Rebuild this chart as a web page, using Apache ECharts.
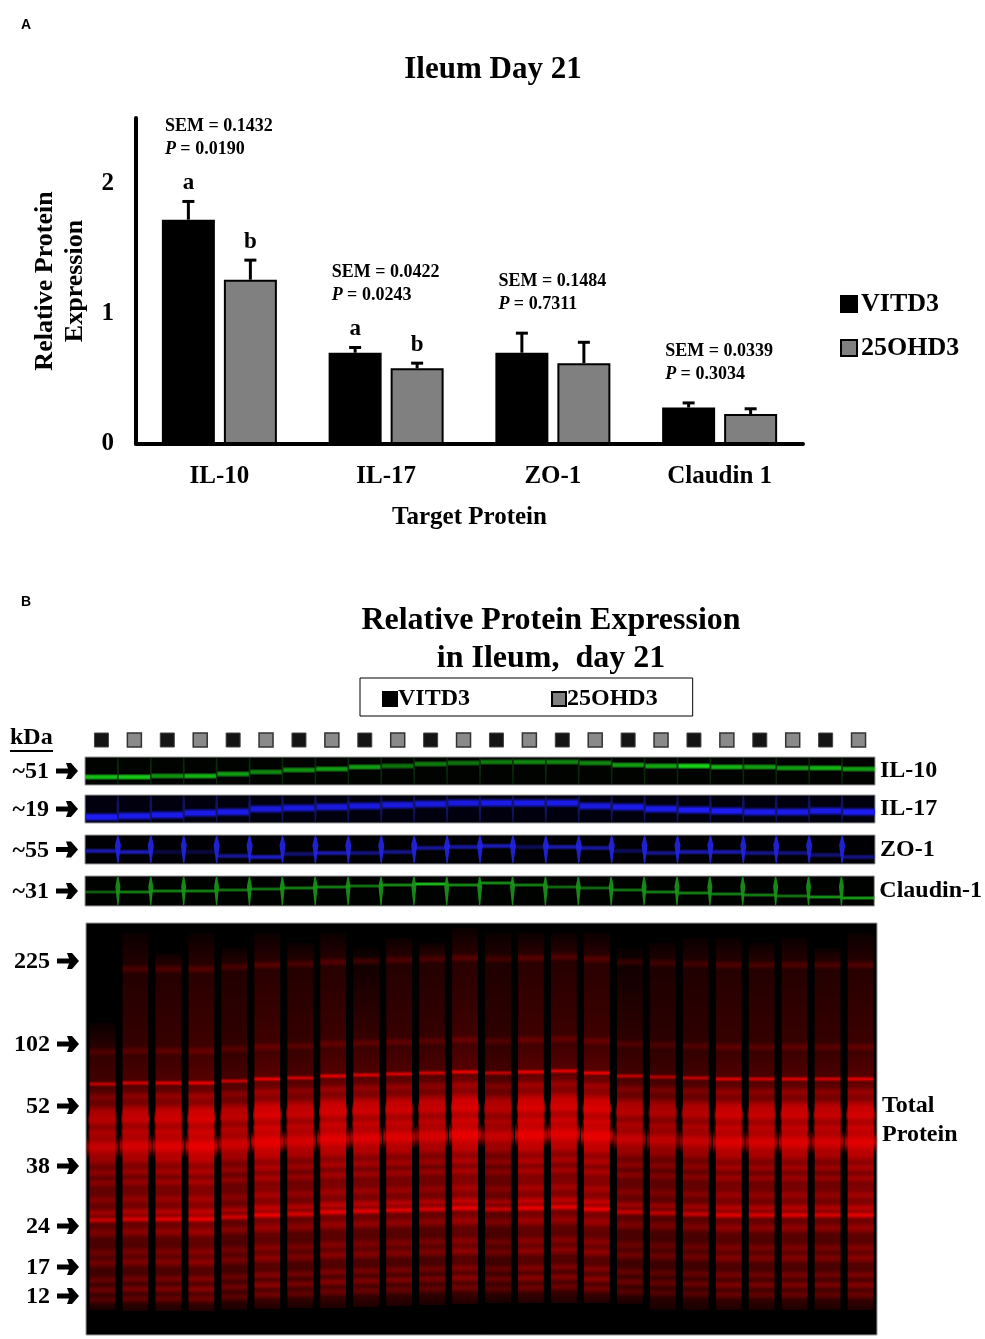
<!DOCTYPE html>
<html>
<head>
<meta charset="utf-8">
<script src="https://cdn.jsdelivr.net/npm/echarts@6/dist/echarts.min.js"></script>
<style>
html, body { margin: 0; background: #fff; }
#chart { width: 985px; height: 1339px; }
</style>
</head>
<body>
<div id="chart"></div>
<script>
// ---- panel A data ----
const targets = ['IL-10', 'IL-17', 'ZO-1', 'Claudin 1'];
const vitd3Mean = [1.72, 0.70, 0.70, 0.28];
const vitd3Sem = [0.14, 0.04, 0.15, 0.035];
const ohd3Mean = [1.26, 0.58, 0.62, 0.23];
const ohd3Sem = [0.15, 0.04, 0.16, 0.04];
const semLabels = ['0.1432', '0.0422', '0.1484', '0.0339'];
const pLabels = ['0.0190', '0.0243', '0.7311', '0.3034'];
const vitd3Letters = ['a', 'a', '', ''];
const ohd3Letters = ['b', 'b', '', ''];

// ---- panel B data (blot) ----
const lanes = ['1','2','3','4','5','6','7','8','9','10','11','12','13','14','15','16','17','18','19','20','21','22','23','24'];
const laneDiet = ['VITD3','25OHD3','VITD3','25OHD3','VITD3','25OHD3','VITD3','25OHD3','VITD3','25OHD3','VITD3','25OHD3',
                  'VITD3','25OHD3','VITD3','25OHD3','VITD3','25OHD3','VITD3','25OHD3','VITD3','25OHD3','VITD3','25OHD3'];
// band depth inside each strip (px from strip top) and brightness
const il10Pos = [20,20,19,19,17,15,13,12,10,9,7,6,5,5,5,6,8,9,9,10,10,11,11,12];
const il10Level = [0.85,0.9,0.65,0.8,0.7,0.6,0.65,0.7,0.7,0.5,0.55,0.5,0.55,0.6,0.6,0.6,0.7,0.75,0.95,0.8,0.7,0.7,0.8,0.7];
const il17Pos = [22,21,20,18,17,14,13,12,11,10,9,8,8,8,8,11,12,14,15,16,17,17,16,17];
const il17Level = [0.95,0.9,0.9,0.9,0.9,0.85,0.85,0.85,0.85,0.85,0.85,0.85,0.9,0.9,0.9,0.85,0.9,0.9,0.95,0.95,0.9,0.9,0.9,0.95];
const zo1Pos = [16,17,17,17,21,22,19,18,18,17,13,12,11,12,12,13,16,18,17,17,18,18,20,22];
const zo1Level = [0.7,0.75,0.25,0.25,0.6,0.8,0.45,0.7,0.5,0.55,0.6,0.65,0.75,0.35,0.7,0.65,0.35,0.55,0.7,0.7,0.55,0.5,0.45,0.5];
const cldnPos = [16,16,15,15,14,13,12,11,10,9,8,9,7,9,11,12,14,16,17,18,19,20,21,22];
const cldnLevel = [0.45,0.6,0.6,0.6,0.55,0.55,0.6,0.6,0.55,0.65,0.9,0.65,0.65,0.6,0.5,0.5,0.55,0.6,0.6,0.6,0.6,0.55,0.7,0.75];

// total protein gel: depth from gel top (px), ladder and band pattern
const ladderKDa = [225, 102, 52, 38, 24, 17, 12];
const ladderPos = [38, 121, 183, 243, 303, 344, 373];
const totalBandPos = [47,129,161,174,189,197,210,224,237,250,260,277,290,297,310,330,340,357,367,377];
const totalBandLevel = [0.2,0.2,0.8,0.25,0.45,0.6,0.45,0.7,0.3,0.3,0.3,0.25,0.45,0.8,0.3,0.25,0.3,0.25,0.3,0.2];
const smearDepth = [40, 130, 160, 185, 230, 255, 290, 320, 375];
const smearLevel = [0.15, 0.25, 0.35, 0.6, 0.7, 0.5, 0.55, 0.38, 0.3];
const laneShift = [0,-1,-1,-1,-3,-5,-6,-8,-9,-10,-11,-12,-11,-12,-13,-11,-8,-7,-6,-5,-5,-5,-5,-5];
const laneGain = [0.75,0.85,0.9,1.0,0.8,1.0,0.85,0.95,0.9,0.9,0.85,1.0,0.75,1.0,0.95,1.0,0.75,0.7,0.75,0.9,0.85,0.9,0.85,0.95];
const laneStart = [100,10,30,10,25,10,20,10,25,15,20,5,10,10,10,10,25,20,15,15,20,15,25,10];
const laneEnd = [387,388,388,388,387,386,385,385,384,383,382,381,380,380,380,380,381,387,387,387,387,387,387,387];

// ---- styles ----
const SERIF = "'Liberation Serif', 'Times New Roman', serif";
const bandSpread = [5,5,3,5,7,9,7,12,6,5,5,5,5,4,6,6,6,5,5,5];
const MAIN_BAND = 7;
const BAR_W = 53, BAR_GAP = 9;

const chart = echarts.init(document.getElementById('chart'));

function rgba(c, a) { return 'rgba(' + c[0] + ',' + c[1] + ',' + c[2] + ',' + a + ')'; }
function softBand(c, a, flat) {
  const f = flat || 0;
  return new echarts.graphic.LinearGradient(0, 0, 0, 1, [
    { offset: 0, color: rgba(c, 0) },
    { offset: 0.5 - f, color: rgba(c, a) },
    { offset: 0.5 + f, color: rgba(c, a) },
    { offset: 1, color: rgba(c, 0) }
  ]);
}
// heavy right arrow whose tip is at (tx, y)
function arrowShape(tx, y) {
  return { type: 'polygon', shape: { points: [[tx - 22, y - 2.5], [tx - 10, y - 2.5], [tx - 12, y - 8], [tx - 7, y - 8], [tx, y],
    [tx - 7, y + 8], [tx - 12, y + 8], [tx - 10, y + 2.5], [tx - 22, y + 2.5]] }, style: { fill: '#000' } };
}

// error bars drawn on top of each bar
function errorSeries(name, means, sems, letters, side) {
  return {
    type: 'custom', name: name + ' err', xAxisIndex: 0, yAxisIndex: 0, z: 5,
    data: means.map((m, i) => [i, m, sems[i]]),
    renderItem: (params, api) => {
      const i = api.value(0);
      const base = api.coord([i, api.value(1)]);
      const top = api.coord([i, api.value(1) + api.value(2)]);
      const x = base[0] + side * (BAR_W + BAR_GAP) / 2;
      const kids = [
        { type: 'line', shape: { x1: x, y1: base[1], x2: x, y2: top[1] }, style: { stroke: '#000', lineWidth: 3 } },
        { type: 'line', shape: { x1: x - 6, y1: top[1], x2: x + 6, y2: top[1] }, style: { stroke: '#000', lineWidth: 3 } }
      ];
      if (letters[i]) {
        kids.push({ type: 'text', x: x, y: top[1] - 18,
          style: { text: letters[i], fill: '#000', font: 'bold 23px ' + SERIF, align: 'center', verticalAlign: 'middle' } });
      }
      return { type: 'group', children: kids };
    }
  };
}

// SEM / P annotation over each group
const annotSeries = {
  type: 'custom', xAxisIndex: 0, yAxisIndex: 0, z: 6,
  data: targets.map((t, i) => [i, Math.max(vitd3Mean[i] + vitd3Sem[i], ohd3Mean[i] + ohd3Sem[i])]),
  renderItem: (params, api) => {
    const i = api.value(0);
    const p = api.coord([i, api.value(1)]);
    const gap = vitd3Letters[i] ? 41 : 17;
    return {
      type: 'text', x: p[0] - BAR_W - BAR_GAP / 2 + 3, y: p[1] - gap,
      style: {
        text: '{b|SEM = ' + semLabels[i] + '}\n{i|P}{b| = ' + pLabels[i] + '}',
        verticalAlign: 'bottom', align: 'left',
        rich: {
          b: { font: 'bold 18px ' + SERIF, fill: '#000', lineHeight: 23 },
          i: { font: 'italic bold 18px ' + SERIF, fill: '#000', lineHeight: 23 }
        }
      }
    };
  }
};

// ---- blot strips ----
const GX = 85, GW = 790;
const strips = [
  { top: 757, h: 28, pos: il10Pos, level: il10Level, color: [25, 220, 25], bg: '#000300', sep: [10, 45, 10], sepW: 2, left: '~51', right: 'IL-10', spread: 3.5 },
  { top: 795, h: 28, pos: il17Pos, level: il17Level, color: [30, 30, 255], bg: '#00000e', sep: [20, 20, 100], sepW: 3, left: '~19', right: 'IL-17', spread: 5 },
  { top: 835, h: 29, pos: zo1Pos, level: zo1Level, color: [35, 35, 235], bg: '#000004', sep: [35, 35, 230], sepW: 6, left: '~55', right: 'ZO-1', spread: 3 },
  { top: 876, h: 30, pos: cldnPos, level: cldnLevel, color: [30, 200, 30], bg: '#000200', sep: [25, 150, 25], sepW: 5, left: '~31', right: 'Claudin-1', spread: 2.2 }
];

const grid = [
  { left: 136, right: 182, top: 118, height: 326 },            // 0 bar chart
  { left: GX, width: GW, top: 731, height: 18 }                  // 1 lane markers
];
const xAxis = [
  {
    type: 'category', gridIndex: 0, data: targets,
    axisLine: { lineStyle: { color: '#000', width: 4 } }, axisTick: { show: false },
    axisLabel: { color: '#000', fontFamily: SERIF, fontWeight: 'bold', fontSize: 25, margin: 20 },
    name: 'Target Protein', nameLocation: 'middle', nameGap: 61,
    nameTextStyle: { color: '#000', fontFamily: SERIF, fontWeight: 'bold', fontSize: 25 }
  },
  { type: 'category', gridIndex: 1, data: lanes, show: false }
];
const yAxis = [
  {
    type: 'value', gridIndex: 0, min: 0, max: 2.5, interval: 1,
    axisLine: { show: true, lineStyle: { color: '#000', width: 4 } }, axisTick: { show: false },
    splitLine: { show: false },
    axisLabel: { color: '#000', fontFamily: SERIF, fontWeight: 'bold', fontSize: 25, margin: 22, showMaxLabel: false,
      formatter: v => (Number.isInteger(v) ? String(v) : '') },
    name: 'Relative Protein\nExpression', nameLocation: 'middle', nameGap: 40, nameRotate: 90,
    nameTextStyle: { color: '#000', fontFamily: SERIF, fontWeight: 'bold', fontSize: 26, lineHeight: 30 }
  },
  { type: 'value', gridIndex: 1, min: 0, max: 1, show: false }
];

const series = [
  { type: 'bar', name: 'VITD3', xAxisIndex: 0, yAxisIndex: 0, data: vitd3Mean, barWidth: BAR_W, barGap: (BAR_GAP / BAR_W * 100) + '%',
    itemStyle: { color: '#000', borderColor: '#000', borderWidth: 2 } },
  { type: 'bar', name: '25OHD3', xAxisIndex: 0, yAxisIndex: 0, data: ohd3Mean, barWidth: BAR_W,
    itemStyle: { color: '#808080', borderColor: '#000', borderWidth: 2 } },
  errorSeries('VITD3', vitd3Mean, vitd3Sem, vitd3Letters, -1),
  errorSeries('25OHD3', ohd3Mean, ohd3Sem, ohd3Letters, 1),
  annotSeries,
  { type: 'scatter', name: 'VITD3 lanes', xAxisIndex: 1, yAxisIndex: 1, symbol: 'rect', symbolSize: 14,
    data: lanes.map((l, i) => laneDiet[i] === 'VITD3' ? [i, 0.5] : null).filter(Boolean),
    itemStyle: { color: '#141414', borderColor: '#444', borderWidth: 1, opacity: 1 } },
  { type: 'scatter', name: '25OHD3 lanes', xAxisIndex: 1, yAxisIndex: 1, symbol: 'rect', symbolSize: 14,
    data: lanes.map((l, i) => laneDiet[i] === '25OHD3' ? [i, 0.5] : null).filter(Boolean),
    itemStyle: { color: '#8a8a8a', borderColor: '#333', borderWidth: 1.5, opacity: 1 } }
];

strips.forEach((s, k) => {
  const g = grid.length;
  grid.push({ left: GX, width: GW, top: s.top, height: s.h, show: true, backgroundColor: s.bg, borderColor: '#9a9a9a', borderWidth: 1 });
  xAxis.push({ type: 'category', gridIndex: g, data: lanes, show: false });
  const ya = yAxis.length;
  const nameStyle = { color: '#000', fontFamily: SERIF, fontWeight: 'bold', fontSize: 24 };
  yAxis.push({ type: 'value', gridIndex: g, min: 0, max: s.h, inverse: true, show: false });
  yAxis.push({
    type: 'value', gridIndex: g, min: 0, max: s.h, inverse: true, position: 'right',
    axisLine: { show: false }, axisTick: { show: false }, axisLabel: { show: false }, splitLine: { show: false },
    name: s.right, nameLocation: 'middle', nameRotate: 0, nameGap: 5, nameTextStyle: Object.assign({ padding: [5, 0, 0, 0] }, nameStyle)
  });
  series.push({
    type: 'custom', xAxisIndex: g, yAxisIndex: ya, clip: false,
    data: lanes.map((l, i) => [i, s.pos[i], s.level[i]]),
    renderItem: (params, api) => {
      const i = api.value(0);
      const c = api.coord([i, api.value(1)]);
      const bw = api.size([1, 0])[0];
      const half = api.size([0, s.spread])[1];
      const cs = params.coordSys;
      const kids = [];
      kids.push({ type: 'rect', shape: { x: c[0] - bw / 2, y: c[1] - half, width: bw, height: half * 2 },
        style: { fill: softBand(s.color, api.value(2), 0.15) } });
      if (i > 0) {
        const xs = c[0] - bw / 2, w = s.sepW;
        kids.push({ type: 'polygon', shape: { points: [[xs - 0.7, cs.y + 1], [xs + 0.7, cs.y + 1], [xs + w / 2, cs.y + cs.height * 0.35],
          [xs + 0.6, cs.y + cs.height - 1], [xs - 0.6, cs.y + cs.height - 1], [xs - w / 2, cs.y + cs.height * 0.35]] },
          style: { fill: rgba(s.sep, 0.9) } });
      } else {
        const y = cs.y + cs.height / 2;
        kids.push({ type: 'text', x: cs.x - 36, y: y + 1,
          style: { text: s.left, font: 'bold 24px ' + SERIF, fill: '#000', align: 'right', verticalAlign: 'middle' } });
        kids.push(arrowShape(cs.x - 7, y));
      }
      return { type: 'group', children: kids };
    }
  });
});

// total protein gel
const gg = grid.length;
grid.push({ left: 86, width: 791, top: 923, height: 412, show: true, backgroundColor: '#000', borderColor: '#9a9a9a', borderWidth: 1 });
xAxis.push({ type: 'category', gridIndex: gg, data: lanes, show: false });
const gy = yAxis.length;
yAxis.push({ type: 'value', gridIndex: gg, min: 0, max: 412, inverse: true, show: false });

series.push({
  type: 'custom', xAxisIndex: gg, yAxisIndex: gy, clip: true,
  data: lanes.map((l, i) => [i, laneStart[i], laneEnd[i]]),
  renderItem: (params, api) => {
    const i = api.value(0);
    const shift = laneShift[i], gain = laneGain[i];
    const start = api.value(1), end = api.value(2);
    const bw = api.size([1, 0])[0];
    const laneW = bw * 0.78;
    const cx = api.coord([i, 0])[0];
    const y0 = api.coord([i, start])[1];
    const y1 = api.coord([i, end])[1];
    const red = [255, 0, 0];
    const stops = [{ offset: 0, color: rgba(red, 0.04) }];
    smearDepth.forEach((d, k) => {
      const f = (d + shift - start) / (end - start);
      if (f > 0.02 && f < 1) stops.push({ offset: f, color: rgba(red, smearLevel[k] * gain) });
    });
    stops.push({ offset: 1, color: rgba(red, 0.12 * gain) });
    const kids = [{
      type: 'rect', shape: { x: cx - laneW / 2, y: y0, width: laneW, height: y1 - y0 },
      style: { fill: new echarts.graphic.LinearGradient(0, 0, 0, 1, stops) }
    }];
    totalBandPos.forEach((p, k) => {
      const depth = p + shift;
      if (depth < start) return;
      const y = api.coord([i, depth])[1];
      const half = api.size([0, bandSpread[k]])[1];
      const w = k === MAIN_BAND ? bw * 0.97 : (k === MAIN_BAND - 2 || k === MAIN_BAND - 1 ? bw * 0.86 : laneW);
      kids.push({ type: 'rect', shape: { x: cx - w / 2, y: y - half, width: w, height: half * 2 },
        style: { fill: softBand(red, Math.min(1, totalBandLevel[k] * gain), 0.08), blend: 'lighter' } });
    });
    return { type: 'group', children: kids };
  }
});

// ladder labels on the gel
series.push({
  type: 'custom', xAxisIndex: gg, yAxisIndex: gy, clip: false,
  data: ladderKDa.map((k, i) => [0, ladderPos[i], k]),
  renderItem: (params, api) => {
    const y = api.coord([0, api.value(1)])[1];
    const x = params.coordSys.x;
    return {
      type: 'group', children: [
        { type: 'text', x: x - 36, y: y + 1,
          style: { text: String(api.value(2)), font: 'bold 24px ' + SERIF, fill: '#000', align: 'right', verticalAlign: 'middle' } },
        arrowShape(x - 7, y)
      ]
    };
  }
});

chart.setOption({
  animation: false,
  backgroundColor: '#fff',
  title: [
    { text: 'A', left: 21, top: 18, padding: 0, textStyle: { fontFamily: "'Liberation Sans', Arial, sans-serif", fontWeight: 'bold', fontSize: 14, color: '#000' } },
    { text: 'Ileum Day 21', left: 493, top: 54, textAlign: 'center', padding: 0,
      textStyle: { fontFamily: SERIF, fontWeight: 'bold', fontSize: 31, color: '#000' } },
    { text: 'B', left: 21, top: 595, padding: 0, textStyle: { fontFamily: "'Liberation Sans', Arial, sans-serif", fontWeight: 'bold', fontSize: 14, color: '#000' } },
    { text: 'Relative Protein Expression\nin Ileum,  day 21', left: 551, top: 602, textAlign: 'center', padding: 0,
      textStyle: { fontFamily: SERIF, fontWeight: 'bold', fontSize: 32, lineHeight: 38, color: '#000' } }
  ],
  legend: [
    { data: ['VITD3', '25OHD3'], orient: 'vertical', left: 840, top: 291, itemWidth: 16, itemHeight: 16, itemGap: 18,
      padding: 0, selectedMode: false, icon: 'rect',
      textStyle: { fontFamily: SERIF, fontWeight: 'bold', fontSize: 26, color: '#000', padding: [0, 0, 0, -1] } },
    { data: ['VITD3', '25OHD3'], orient: 'horizontal', left: 360, top: 678, itemWidth: 14, itemHeight: 14, itemGap: 81,
      padding: [9, 35, 5, 22], borderColor: '#000', borderWidth: 1, selectedMode: false, icon: 'rect',
      textStyle: { fontFamily: SERIF, fontWeight: 'bold', fontSize: 24, color: '#000', padding: [0, 0, 0, -4] } }
  ],
  graphic: [
    { type: 'text', left: 10, top: 726, style: { text: 'kDa', font: 'bold 24px ' + SERIF, fill: '#000' } },
    { type: 'rect', left: 10, top: 750, shape: { width: 43, height: 2 }, style: { fill: '#000' } },
    { type: 'text', left: 882, top: 1091, style: { text: 'Total\nProtein', font: 'bold 24px ' + SERIF, fill: '#000', lineHeight: 29 } }
  ],
  grid, xAxis, yAxis, series
});
</script>
</body>
</html>
